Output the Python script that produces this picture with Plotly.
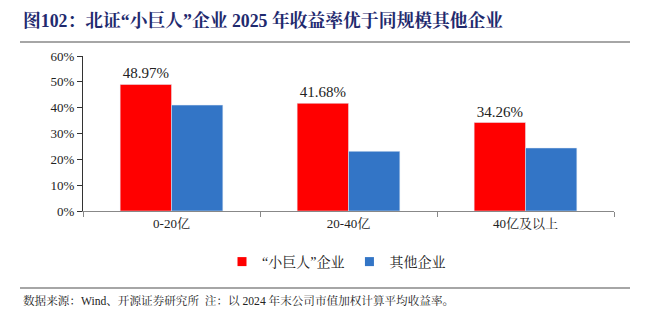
import plotly.graph_objects as go

categories = ["0-20亿", "20-40亿", "40亿及以上"]
xiaojuren = [48.97, 41.68, 34.26]
others = [41.0, 23.1, 24.4]
series_names = ["“小巨人”企业", "其他企业"]
colors = ["#FF0000", "#3375C6"]
title_text = "图102：北证“小巨人”企业 2025 年收益率优于同规模其他企业"
source_text = "数据来源：Wind、开源证券研究所  注：以 2024 年末公司市值加权计算平均收益率。"

FONT = "Liberation Serif, Times New Roman, Noto Serif CJK SC, Noto Sans CJK SC, serif"

W, H = 649, 323
L, R, T, B = 83, 35, 56, 112
pw, ph = W - L - R, H - T - B

def px(x):
    return (x - L) / pw

def py(y):
    return (H - B - y) / ph

fig = go.Figure()
fig.add_bar(x=categories, y=xiaojuren, name=series_names[0], marker_color=colors[0],
            text=[f"{v:.2f}%" for v in xiaojuren], textposition="outside",
            textfont=dict(size=15, color="#222", family=FONT), cliponaxis=False,
            showlegend=False)
fig.add_bar(x=categories, y=others, name=series_names[1], marker_color=colors[1],
            showlegend=False)
for name, c in zip(series_names, colors):
    fig.add_scatter(x=[None], y=[None], mode="markers", name=name,
                    marker=dict(symbol="square", size=9, color=c))

fig.update_layout(
    width=W, height=H, margin=dict(l=L, r=R, t=T, b=B),
    paper_bgcolor="white", plot_bgcolor="white",
    barmode="group", bargap=0.42, bargroupgap=0,
    font=dict(family=FONT, size=13, color="#222"),
    showlegend=True,
    legend=dict(orientation="h", x=px(222), y=py(262), xanchor="left", yanchor="middle",
                font=dict(size=14, family=FONT), itemwidth=30, traceorder="normal",
                tracegroupgap=0),
    xaxis=dict(showline=True, linecolor="#888", linewidth=1, ticks="outside",
               tickson="boundaries", ticklen=5, tickcolor="#888",
               tickfont=dict(size=13, family=FONT)),
    yaxis=dict(range=[0, 60], dtick=10, ticksuffix="%", showgrid=False, zeroline=False,
               showline=True, linecolor="#333", linewidth=1, ticks="outside", ticklen=5,
               tickcolor="#333", tickfont=dict(size=13, family=FONT)),
    shapes=[
        dict(type="line", xref="paper", yref="paper", x0=px(20), x1=px(630), y0=py(42), y1=py(42),
             line=dict(color="#888", width=1.5)),
        dict(type="line", xref="paper", yref="paper", x0=px(20), x1=px(630), y0=py(288), y1=py(288),
             line=dict(color="#888", width=1.5)),
    ],
    annotations=[
        dict(text="<b>" + title_text + "</b>", xref="paper", yref="paper", x=px(21), y=py(20),
             xanchor="left", yanchor="middle", showarrow=False,
             font=dict(size=17.8, color="#1F2A6E", family=FONT)),
        dict(text=source_text, xref="paper", yref="paper", x=px(21), y=py(301),
             xanchor="left", yanchor="middle", showarrow=False,
             font=dict(size=11.6, color="#222", family=FONT)),
    ],
)

fig.write_html("out.html")
